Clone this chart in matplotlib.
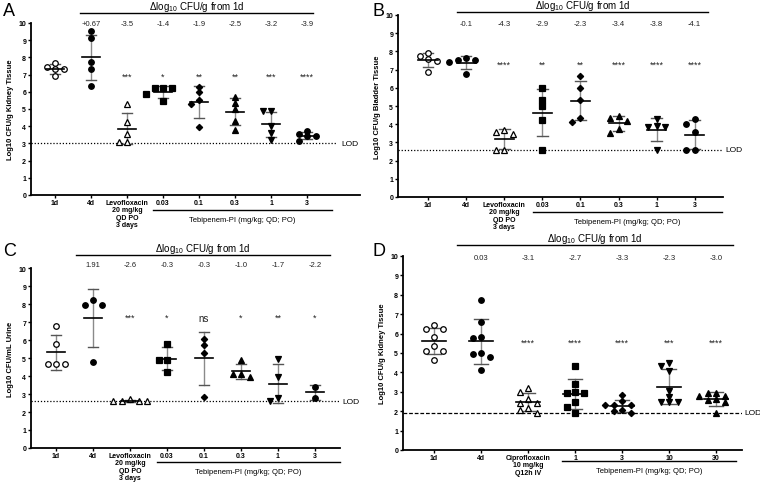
import numpy as np
import matplotlib
matplotlib.use("Agg")
import matplotlib.pyplot as plt
from matplotlib.lines import Line2D

plt.rcParams['font.family'] = ['Liberation Sans', 'DejaVu Sans']
plt.rcParams['mathtext.fontset'] = 'custom'
plt.rcParams['mathtext.rm'] = 'Liberation Sans'

W, H = 760, 485

# ---------------- data ----------------
A_cats = ['1d', '4d', 'Levofloxacin\n20 mg/kg\nQD PO\n3 days', '0.03', '0.1', '0.3', '1', '3']
A_vals = [[7.42, 7.33, 6.9, 7.67, 7.33],
          [9.53, 9.15, 7.71, 7.31, 6.32],
          [5.27, 4.26, 3.57, 3.1, 3.1],
          [6.2, 6.22, 6.2, 5.9, 5.45],
          [6.3, 5.97, 5.54, 5.27, 3.93],
          [5.72, 5.35, 5.0, 4.28, 3.8],
          [4.86, 4.86, 4.0, 3.6, 3.2],
          [3.55, 3.41, 3.74, 3.41, 3.16]]
A_delta = ['+0.67', '-3.5', '-1.4', '-1.9', '-2.5', '-3.2', '-3.9']
A_stars = ['***', '*', '**', '**', '***', '****']
A_lod = 3.0

B_cats = A_cats
B_vals = [[7.73, 7.9, 7.47, 7.58, 6.89],
          [7.64, 7.53, 7.53, 7.4, 6.78],
          [3.55, 3.68, 3.46, 2.6, 2.6],
          [5.97, 5.35, 5.02, 4.25, 2.6],
          [6.63, 6.0, 5.35, 4.35, 4.1],
          [4.34, 4.47, 4.19, 3.52, 3.74],
          [3.92, 4.29, 3.83, 3.83, 2.6],
          [4.29, 4.01, 3.59, 2.6, 2.6]]
B_delta = ['-0.1', '-4.3', '-2.9', '-2.3', '-3.4', '-3.8', '-4.1']
B_stars = ['****', '**', '**', '****', '****', '****']
B_lod = 2.6

C_cats = A_cats
C_vals = [[6.8, 5.8, 4.65, 4.65, 4.65],
          [8.2, 7.95, 7.95, 4.8],
          [2.7, 2.6, 2.6, 2.6, 2.6],
          [5.8, 4.9, 4.9, 4.25],
          [6.08, 5.72, 5.29, 2.81],
          [4.9, 4.1, 3.95, 4.1],
          [4.95, 3.95, 2.6, 2.8],
          [3.4, 2.8]]
C_delta = ['1.91', '-2.6', '-0.3', '-0.3', '-1.0', '-1.7', '-2.2']
C_stars = ['***', '*', 'ns', '*', '**', '*']
C_lod = 2.6

D_cats = ['1d', '4d', 'Ciprofloxacin\n10 mg/kg\nQ12h IV', '1', '3', '10', '30']
D_vals = [[6.45, 6.25, 6.25, 5.8, 5.35, 5.1, 5.1, 4.65],
          [7.75, 6.6, 5.8, 5.75, 5.0, 4.95, 4.8, 4.1],
          [3.2, 3.0, 2.65, 2.42, 2.42, 2.17, 2.05, 1.9],
          [4.35, 3.4, 3.0, 2.95, 2.95, 2.45, 2.2, 1.9],
          [2.85, 2.55, 2.3, 2.3, 2.3, 2.05, 2.0, 1.9],
          [4.5, 4.35, 4.05, 3.05, 2.75, 2.5, 2.45, 2.45],
          [2.95, 2.95, 2.8, 2.8, 2.65, 2.6, 2.45, 1.9]]
D_delta = ['0.03', '-3.1', '-2.7', '-3.3', '-2.3', '-3.0']
D_stars = ['****', '****', '****', '***', '****']
D_lod = 1.92

markers8 = [('o', False), ('o', True), ('^', False), ('s', True), ('D', True), ('^', True), ('v', True), ('o', True)]
markersD = [('o', False), ('o', True), ('^', False), ('s', True), ('D', True), ('v', True), ('^', True)]

fig = plt.figure(figsize=(W / 100, H / 100), dpi=100)


def fline(x0, x1, y, lw=1.0, color='black'):
    fig.add_artist(Line2D([x0 / W, x1 / W], [1 - y / H, 1 - y / H], transform=fig.transFigure,
                          color=color, lw=lw))


def ftext(x, y, s, **kw):
    fig.text(x / W, 1 - y / H, s, **kw)


def swarm(vals, ppu, sp, d=8.5, mind=5.6):
    placed = []
    order = np.argsort(-np.asarray(vals), kind='stable')
    res = np.zeros(len(vals))
    for i in order:
        y = vals[i] * ppu
        for k in [0, -1, 1, -2, 2, -3, 3]:
            x = k * d
            if all(np.hypot(x - px, y - py) >= mind for px, py in placed):
                break
        placed.append((x, y))
        res[i] = x / sp
    return res


def panel(spec):
    l, r, t, b = spec['l'], spec['r'], spec['t'], spec['b']
    cat0, sp = spec['cat0'], spec['sp']
    ax = fig.add_axes([l / W, 1 - b / H, (r - l) / W, (b - t) / H])
    ax.set_xlim((l - cat0) / sp, (r - cat0) / sp)
    ax.set_ylim(0, 10)
    ppu = (b - t) / 10.0
    for s in ['top', 'right']:
        ax.spines[s].set_visible(False)
    for s in ['left', 'bottom']:
        ax.spines[s].set_linewidth(1.3)
    ax.patch.set_alpha(0)
    ax.set_yticks(range(0, 11))
    ax.tick_params(axis='y', labelsize=5, length=2.5, width=1, pad=1)
    for tl in ax.get_yticklabels():
        tl.set_fontweight('bold')
    cats = spec['cats']
    ax.set_xticks(range(len(cats)))
    ax.set_xticklabels(cats, fontsize=5, fontweight='bold', linespacing=1.05)
    ax.tick_params(axis='x', length=2, width=1, pad=1)
    ax.set_ylabel(spec['ylabel'], fontsize=5.5, fontweight='bold', labelpad=3)

    for i, vals in enumerate(spec['vals']):
        vals = np.asarray(vals, dtype=float)
        m, filled = spec['markers'][i]
        xo = swarm(vals, ppu, sp)
        mean = vals.mean()
        sd = vals.std(ddof=1)
        ms = 4.0 if m != 'D' else 3.2
        ax.plot(i + xo, vals, ls='none', marker=m, ms=ms,
                mfc='black' if filled else 'white', mec='black', mew=0.9, zorder=3)
        ax.plot([i, i], [mean - sd, mean + sd], color='#8a8a8a', lw=1.0, zorder=2)
        ax.plot([i - 0.14, i + 0.14], [mean + sd, mean + sd], color='#555555', lw=1.0, zorder=2)
        ax.plot([i - 0.14, i + 0.14], [mean - sd, mean - sd], color='#555555', lw=1.0, zorder=2)
        ax.plot([i - 0.25, i + 0.25], [mean, mean], color='black', lw=1.2, zorder=4)

    ax.axhline(spec['lod'], xmin=0, xmax=(spec['lodend'] - l) / (r - l),
               color='black', lw=0.9, ls=spec['lodls'], zorder=1)
    ax.annotate('LOD', xy=(spec['lodx'], spec['lod']), xycoords=('figure pixels', 'data'),
                fontsize=6, va='center', ha='left')

    for j, s in enumerate(spec['delta']):
        ax.annotate(s, xy=(j + 1, H - spec['dy']), xycoords=('data', 'figure pixels'),
                    ha='center', va='center', fontsize=5.5, color='#222222')
    for j, s in enumerate(spec['stars']):
        ax.text(j + 2, spec['stary'], s, ha='center', va='center',
                fontsize=6.5 if s != 'ns' else 7, color='#222222')

    # header
    fline(spec['hx0'], spec['hx1'], spec['hy'], lw=1.0)
    ftext((spec['hx0'] + spec['hx1']) / 2, spec['hy'] - 6.5,
          r'$\Delta$log$_{10}$ CFU/g from 1d', ha='center', va='center', fontsize=7)
    # tebipenem group
    fline(spec['tx0'], spec['tx1'], spec['ty'], lw=1.0)
    ftext((spec['tx0'] + spec['tx1']) / 2, spec['ty'] + 10, 'Tebipenem-PI (mg/kg; QD; PO)',
          ha='center', va='center', fontsize=5.5)
    ftext(spec['lx'], spec['ly'], spec['letter'], fontsize=13, ha='left', va='center')
    return ax


panel(dict(l=31, r=360, t=24, b=196, cat0=55, sp=36.0, cats=A_cats, vals=A_vals,
           markers=markers8, lod=A_lod, lodls=(0, (1, 1.5)), lodend=336, lodx=341,
           delta=A_delta, dy=25,
           stars=A_stars, stary=6.9, ylabel='Log10 CFU/g Kidney Tissue',
           hx0=80, hx1=313, hy=14, tx0=153, tx1=332, ty=211, lx=3, ly=11, letter='A'))

panel(dict(l=398, r=723, t=16, b=198, cat0=428, sp=38.1, cats=B_cats, vals=B_vals,
           markers=markers8, lod=B_lod, lodls=(0, (1, 1.5)), lodend=722, lodx=725,
           delta=B_delta, dy=25,
           stars=B_stars, stary=7.3, ylabel='Log10 CFU/g Bladder Tissue',
           hx0=457, hx1=708, hy=12.5, tx0=533, tx1=722, ty=213, lx=373, ly=11, letter='B'))

panel(dict(l=31, r=340, t=269, b=449, cat0=56, sp=37.0, cats=C_cats, vals=C_vals,
           markers=markers8, lod=C_lod, lodls=(0, (1, 1.5)), lodend=340, lodx=342,
           delta=C_delta, dy=266,
           stars=C_stars, stary=7.25, ylabel='Log10 CFU/mL Urine',
           hx0=76, hx1=330, hy=256, tx0=157, tx1=340, ty=463, lx=3, ly=252, letter='C'))

panel(dict(l=403, r=742, t=257, b=451, cat0=434, sp=47.0, cats=D_cats, vals=D_vals,
           markers=markersD, lod=D_lod, lodls=(0, (3, 1.5)), lodend=742, lodx=744,
           delta=D_delta, dy=259,
           stars=D_stars, stary=5.57, ylabel='Log10 CFU/g Kidney Tissue',
           hx0=457, hx1=733, hy=246, tx0=562, tx1=736, ty=462, lx=373, ly=252, letter='D'))

fig.savefig('out.png', dpi=100)
